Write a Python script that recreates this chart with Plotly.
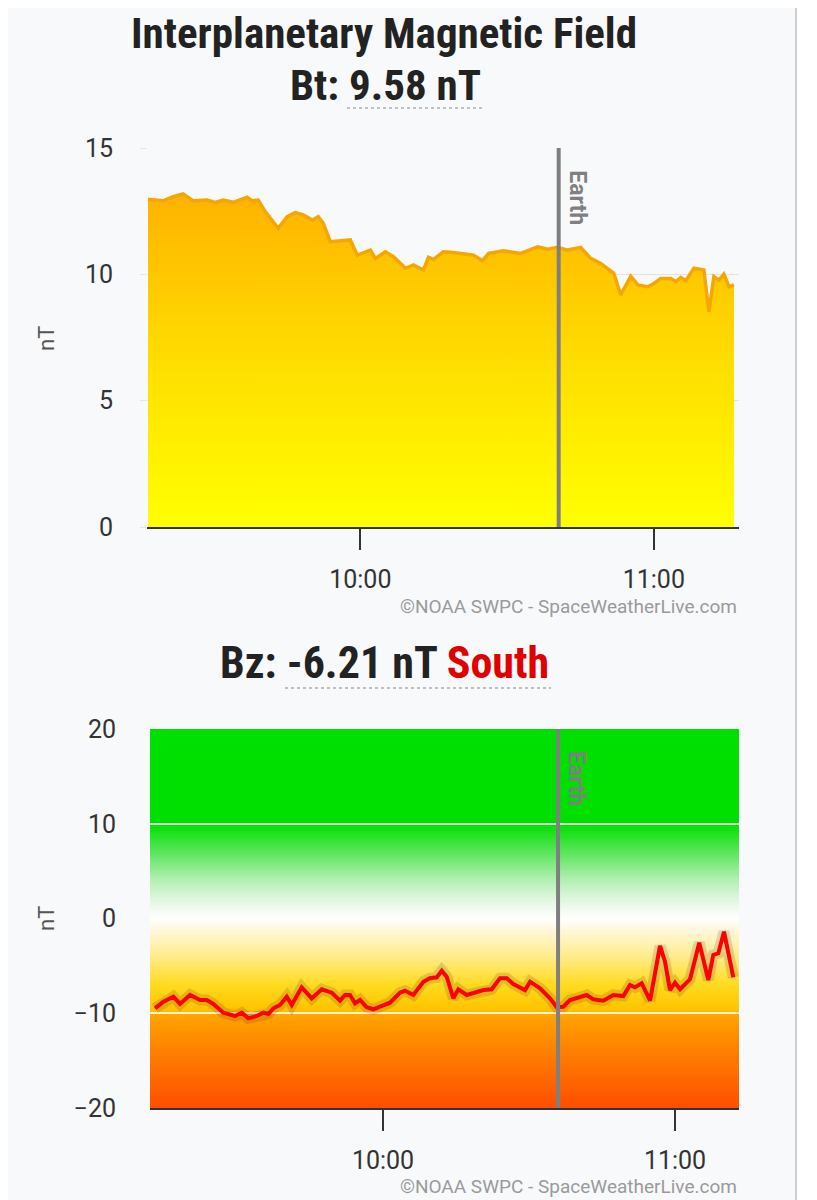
import plotly.graph_objects as go
from plotly.colors import sample_colorscale

# ---------------- data ----------------
DAY = "2024-05-01 "

bt_times = ["09:16:35", "09:19:40", "09:21:43", "09:23:45", "09:25:48", "09:28:40", "09:30:19",
            "09:31:57", "09:33:59", "09:36:52", "09:37:53", "09:39:07", "09:40:33", "09:43:13",
            "09:45:03", "09:46:41", "09:48:20", "09:50:10", "09:51:24", "09:52:25", "09:53:52",
            "09:55:54", "09:57:57", "09:59:23", "10:02:03", "10:03:04", "10:05:07", "10:06:46",
            "10:09:13", "10:10:51", "10:12:54", "10:13:55", "10:14:57", "10:16:59", "10:19:02",
            "10:23:08", "10:24:59", "10:26:13", "10:29:17", "10:32:46", "10:36:15", "10:38:17",
            "10:40:20", "10:42:23", "10:45:03", "10:47:06", "10:49:09", "10:51:49", "10:53:14",
            "10:55:17", "10:56:43", "10:58:46", "11:00:00", "11:01:26", "11:03:29", "11:04:31",
            "11:05:32", "11:06:33", "11:08:11", "11:10:14", "11:11:16", "11:12:17", "11:13:19",
            "11:14:20", "11:15:22", "11:16:23"]
bt_values = [12.97, 12.91, 13.07, 13.18, 12.91, 12.94, 12.85, 12.94, 12.85, 13.05, 12.91,
             12.94, 12.48, 11.82, 12.28, 12.44, 12.35, 12.15, 12.28, 12.02, 11.29, 11.33,
             11.36, 10.76, 10.96, 10.63, 10.89, 10.70, 10.24, 10.37, 10.17, 10.67, 10.59,
             10.89, 10.86, 10.76, 10.54, 10.83, 10.93, 10.83, 11.09, 10.99, 11.07, 10.96,
             11.07, 10.63, 10.43, 10.04, 9.18, 9.93, 9.58, 9.51, 9.64, 9.84, 9.84, 9.71,
             9.88, 9.75, 10.24, 10.17, 8.52, 9.91, 9.77, 10.01, 9.51, 9.58]

bz_times = ["09:13:09", "09:14:52", "09:16:55", "09:18:17", "09:20:20", "09:22:24", "09:23:46",
            "09:25:08", "09:27:11", "09:29:35", "09:30:58", "09:32:19", "09:34:03", "09:35:24",
            "09:36:26", "09:37:28", "09:38:50", "09:40:13", "09:41:14", "09:43:17", "09:45:21",
            "09:47:24", "09:49:28", "09:51:10", "09:52:11", "09:53:13", "09:54:15", "09:55:16",
            "09:56:39", "09:58:01", "09:59:23", "10:01:26", "10:03:29", "10:04:31", "10:06:14",
            "10:08:17", "10:09:40", "10:11:02", "10:12:04", "10:13:05", "10:14:27", "10:15:28",
            "10:17:12", "10:19:15", "10:20:37", "10:22:20", "10:24:02", "10:25:25", "10:26:46",
            "10:29:11", "10:30:13", "10:32:16", "10:34:19", "10:35:41", "10:37:03", "10:38:25",
            "10:39:48", "10:41:52", "10:43:13", "10:45:16", "10:47:19", "10:49:23", "10:50:45",
            "10:51:47", "10:53:10", "10:54:52", "10:56:55", "10:57:57", "10:58:58", "11:00:00",
            "11:01:02", "11:03:05", "11:04:59", "11:06:50", "11:07:52", "11:08:54", "11:10:04",
            "11:11:59"]
bz_values = [-9.48, -8.78, -8.25, -9.02, -8.07, -8.60, -8.60, -9.02, -9.94, -10.29, -9.94,
             -10.54, -10.29, -9.94, -10.08, -9.48, -9.13, -8.25, -9.13, -7.26, -8.43, -7.47,
             -7.83, -8.67, -8.07, -8.07, -8.95, -8.60, -9.37, -9.58, -9.31, -8.89, -7.83,
             -7.62, -8.07, -6.67, -6.31, -6.21, -5.51, -6.14, -8.43, -7.47, -8.07, -7.72,
             -7.55, -7.47, -6.31, -6.31, -6.91, -7.55, -6.67, -7.37, -8.43, -9.37, -9.31,
             -8.60, -8.43, -8.07, -8.53, -8.67, -8.07, -8.18, -7.02, -7.26, -6.84, -8.67,
             -2.90, -4.56, -7.55, -6.78, -7.47, -6.42, -2.55, -6.49, -3.85, -3.67, -1.39,
             -6.21]

bt_current = "9.58"
bz_current = "-6.21"
earth_bt = "10:40:33"
earth_bz = "10:35:58"
bt_xrange = ["09:16:23", "11:17:25"]
bz_xrange = ["09:12:07", "11:13:09"]
bt_yticks = [0, 5, 10, 15]
bz_yticks = [-20, -10, 0, 10, 20]
xtick_times = ["10:00:00", "11:00:00"]
xtick_labels = ["10:00", "11:00"]

# ---------------- helpers ----------------
W, H = 817, 1200
OFF = 8  # page body margin
def px(x):
    return (x - OFF) / W
def py(y):
    return 1 - (y - OFF) / H

FONT = "Roboto, 'Noto Sans', sans-serif"
TITLE_FONT = "'Roboto Condensed', Roboto, sans-serif"
BG = "#F8F9FA"

fig = go.Figure()

# ---- top : Bt ----
fig.add_trace(go.Scatter(
    x=[DAY + t for t in bt_times], y=bt_values, mode="lines",
    line=dict(color="#F5A600", width=3.5, shape="linear"),
    fill="tozeroy",
    fillgradient=dict(type="vertical", start=0, stop=13.2,
                      colorscale=[[0, "#FFFF00"], [0.5, "#FFDD00"], [1, "#FFB200"]]),
    xaxis="x", yaxis="y", hoverinfo="skip", showlegend=False))

# ---- bottom : Bz ----
fig.add_trace(go.Scatter(
    x=[DAY + t for t in bz_times], y=bz_values, mode="lines",
    line=dict(color="rgba(90,50,0,0.17)", width=11),
    xaxis="x2", yaxis="y2", hoverinfo="skip", showlegend=False))
fig.add_trace(go.Scatter(
    x=[DAY + t for t in bz_times], y=bz_values, mode="lines",
    line=dict(color="#FF0000", width=4),
    xaxis="x2", yaxis="y2", hoverinfo="skip", showlegend=False))

# background gradient for Bz panel (bands drawn below grid)
bz_scale = [[0.0, "#FF4E00"], [0.15, "#FF8000"], [0.245, "#FFA400"], [0.26, "#FFC400"],
            [0.325, "#FFDA20"], [0.4, "#FFEC8A"], [0.475, "#FFF8E2"], [0.5, "#FFFFFF"],
            [0.54, "#E8F8E8"], [0.6, "#B4F0B4"], [0.675, "#5AE65A"], [0.75, "#00E000"],
            [1.0, "#00E000"]]
shapes = []
lo, hi = bz_yticks[0], bz_yticks[-1]
n = 160
step = (hi - lo) / n
cols = sample_colorscale(bz_scale, [(i + 0.5) / n for i in range(n)])
for i in range(n):
    shapes.append(dict(type="rect", xref="x2 domain", yref="y2", x0=0, x1=1,
                       y0=lo + i * step, y1=min(hi, lo + (i + 1) * step + step * 0.6),
                       fillcolor=cols[i], line=dict(width=0), layer="below"))

# Earth lines
for xr, yr, t in (("x", "y domain", earth_bt), ("x2", "y2 domain", earth_bz)):
    shapes.append(dict(type="line", xref=xr, yref=yr, x0=DAY + t, x1=DAY + t, y0=0, y1=1,
                       line=dict(color="#7F7F7F", width=4), layer="above"))

# dotted underlines of headline values
shapes.append(dict(type="line", xref="paper", yref="paper", x0=px(347), x1=px(482),
                   y0=py(108), y1=py(108), line=dict(color="#888", width=1.2, dash="dot")))
shapes.append(dict(type="line", xref="paper", yref="paper", x0=px(285), x1=px(551),
                   y0=py(688), y1=py(688), line=dict(color="#888", width=1.2, dash="dot")))
# page edge (scrollbar border)
shapes.append(dict(type="rect", xref="paper", yref="paper", x0=px(796), x1=1, y0=0, y1=1,
                   fillcolor="#FFFFFF", line=dict(width=0), layer="below"))
shapes.append(dict(type="line", xref="paper", yref="paper", x0=px(796), x1=px(796), y0=0, y1=1,
                   line=dict(color="#CFCFCF", width=2), layer="below"))

TS = 43
annotations = [
    dict(text="<b>Interplanetary Magnetic Field</b>", x=px(384), y=py(33), xref="paper", yref="paper",
         showarrow=False, font=dict(family=TITLE_FONT, size=TS, color="#222222"),
         xanchor="center", yanchor="middle"),
    dict(text=f"<b>Bt: {bt_current} nT</b>", x=px(385), y=py(85), xref="paper", yref="paper",
         showarrow=False, font=dict(family=TITLE_FONT, size=TS, color="#222222"),
         xanchor="center", yanchor="middle"),
    dict(text=f"<b>Bz: {bz_current} nT <span style='color:#E00000'>South</span></b>",
         x=px(384), y=py(663), xref="paper", yref="paper",
         showarrow=False, font=dict(family=TITLE_FONT, size=44, color="#222222"),
         xanchor="center", yanchor="middle"),
    dict(text="nT", x=px(46), y=py(339), xref="paper", yref="paper", textangle=-90,
         showarrow=False, xanchor="center", yanchor="middle",
         font=dict(family=FONT, size=22, color="#555555")),
    dict(text="nT", x=px(46), y=py(919), xref="paper", yref="paper", textangle=-90,
         showarrow=False, xanchor="center", yanchor="middle",
         font=dict(family=FONT, size=22, color="#555555")),
    dict(text="©NOAA SWPC - SpaceWeatherLive.com", x=px(739), y=py(606), xref="paper", yref="paper",
         showarrow=False, xanchor="right", yanchor="middle",
         font=dict(family=FONT, size=19, color="#9A9A9A")),
    dict(text="©NOAA SWPC - SpaceWeatherLive.com", x=px(739), y=py(1186), xref="paper", yref="paper",
         showarrow=False, xanchor="right", yanchor="middle",
         font=dict(family=FONT, size=19, color="#9A9A9A")),
    dict(text="<b>Earth</b>", x=DAY + earth_bt, y=1, xref="x", yref="y domain", textangle=90,
         showarrow=False, xanchor="left", yanchor="top", xshift=3, yshift=-20,
         font=dict(family=FONT, size=23, color="#7F7F7F")),
    dict(text="<b>Earth</b>", x=DAY + earth_bz, y=1, xref="x2", yref="y2 domain", textangle=90,
         showarrow=False, xanchor="left", yanchor="top", xshift=3, yshift=-20,
         font=dict(family=FONT, size=23, color="#7F7F7F")),
]

tickfont = dict(family=FONT, size=25, color="#333333")
xcommon = dict(type="date", showgrid=False, zeroline=False, showline=True, linecolor="#333333",
               linewidth=2, ticks="outside", ticklen=21, tickwidth=2, tickcolor="#333333",
               tickvals=[DAY + t for t in xtick_times], ticktext=xtick_labels, tickfont=tickfont,
               ticklabelstandoff=8, fixedrange=True, automargin=False)

fig.update_layout(
    width=W, height=H, margin=dict(l=0, r=0, t=0, b=0, autoexpand=False),
    paper_bgcolor=BG, plot_bgcolor=BG,
    showlegend=False,
    xaxis=dict(domain=[px(147), px(739)], anchor="y",
               range=[DAY + bt_xrange[0], DAY + bt_xrange[1]], **xcommon),
    yaxis=dict(domain=[py(527), py(148)], anchor="x", range=[0, 15], tickvals=bt_yticks,
               showgrid=True, gridcolor="#E3E3E3", gridwidth=1, zeroline=False,
               showline=False, ticks="outside", ticklen=6, tickcolor="#E3E3E3",
               tickfont=tickfont, ticklabelstandoff=22, automargin=False),
    xaxis2=dict(domain=[px(150), px(739)], anchor="y2",
                range=[DAY + bz_xrange[0], DAY + bz_xrange[1]], **xcommon),
    yaxis2=dict(domain=[py(1108), py(729)], anchor="x2", range=[-20, 20], tickvals=bz_yticks,
                showgrid=True, gridcolor="rgba(255,255,245,0.85)", gridwidth=2, zeroline=False,
                showline=False, ticks="", tickfont=tickfont, ticklabelstandoff=33,
                automargin=False),
    shapes=shapes, annotations=annotations,
)

fig.write_html("out.html")
